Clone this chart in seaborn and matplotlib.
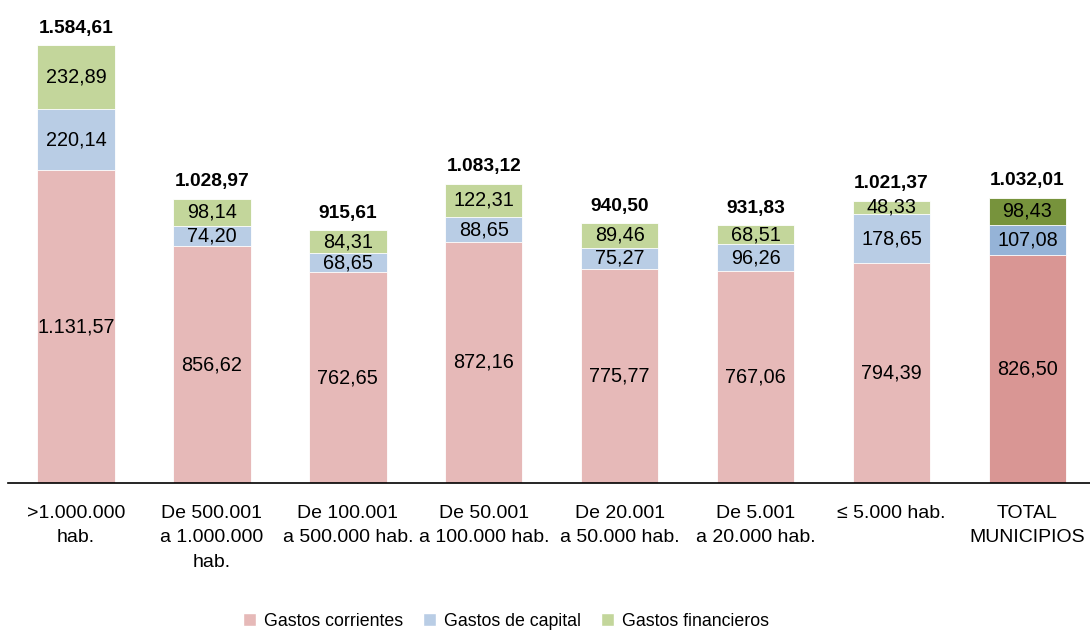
import matplotlib
matplotlib.use("Agg")
import matplotlib.pyplot as plt
import seaborn as sns
import pandas as pd
import numpy as np
from matplotlib.patches import Patch
from matplotlib import font_manager

categories = [">1.000.000\nhab.", "De 500.001\na 1.000.000\nhab.", "De 100.001\na 500.000 hab.",
              "De 50.001\na 100.000 hab.", "De 20.001\na 50.000 hab.", "De 5.001\na 20.000 hab.",
              "≤ 5.000 hab.", "TOTAL\nMUNICIPIOS"]
corrientes = [1131.57, 856.62, 762.65, 872.16, 775.77, 767.06, 794.39, 826.50]
capital = [220.14, 74.20, 68.65, 88.65, 75.27, 96.26, 178.65, 107.08]
financieros = [232.89, 98.14, 84.31, 122.31, 89.46, 68.51, 48.33, 98.43]
totales = [1584.61, 1028.97, 915.61, 1083.12, 940.50, 931.83, 1021.37, 1032.01]
series_names = ["Gastos corrientes", "Gastos de capital", "Gastos financieros"]

col_light = ["#E6B9B8", "#B9CDE5", "#C3D69B"]
col_dark = ["#D99694", "#95B3D7", "#77933C"]

sns.set_theme(style="white")
names = {f.name for f in font_manager.fontManager.ttflist}
fam = "Liberation Sans Narrow" if "Liberation Sans Narrow" in names else "Liberation Sans"
plt.rcParams["font.family"] = [fam, "DejaVu Sans"]
plt.rcParams["text.color"] = "black"

def fmt(v):
    s = f"{v:,.2f}"
    return s.replace(",", "X").replace(".", ",").replace("X", ".")

df = pd.DataFrame({"cat": categories, "c": corrientes, "k": capital, "f": financieros})
df["cum1"] = df["c"]
df["cum2"] = df["c"] + df["k"]
df["cum3"] = df["c"] + df["k"] + df["f"]

fig = plt.figure(figsize=(10.9, 6.32), dpi=100)
ax = fig.add_axes([8/1090, (632-483)/632, 1082/1090, 481/632])

n = len(categories)
layers = [("cum3", 2), ("cum2", 1), ("cum1", 0)]
for colname, idx in layers:
    pal = [col_light[idx]] * (n - 1) + [col_dark[idx]]
    sns.barplot(data=df, x="cat", y=colname, hue="cat", palette=pal, legend=False,
                width=0.57, ax=ax, edgecolor="white", linewidth=0.6, saturation=1)

ax.set_xlim(-0.5, 7.46)
ax.set_ylim(0, 1740)
ax.set_xlabel("")
ax.set_ylabel("")
ax.set_yticks([])
for s in ["top", "right", "left"]:
    ax.spines[s].set_visible(False)
ax.spines["bottom"].set_color("black")
ax.spines["bottom"].set_linewidth(1.2)
ax.tick_params(axis="x", length=0, pad=16, labelsize=14, colors="black")
ax.set_xticks(range(n))
ax.set_xticklabels(categories, linespacing=1.55)

fs = 14.3
for i in range(n):
    bottoms = [0, corrientes[i], corrientes[i] + capital[i]]
    vals = [corrientes[i], capital[i], financieros[i]]
    for b, v in zip(bottoms, vals):
        ax.text(i, b + v / 2, fmt(v), ha="center", va="center", fontsize=fs, color="black")
    ax.annotate(fmt(totales[i]), (i, df["cum3"][i]), xytext=(0, 6), textcoords="offset points",
                ha="center", va="bottom", fontsize=13.8, fontweight="bold", color="black",
                annotation_clip=False)

handles = [Patch(facecolor=c) for c in col_light]
leg = fig.legend(handles, series_names, loc="center", bbox_to_anchor=(506/1090, 1 - 621/632),
                 ncol=3, frameon=False, fontsize=12.8, handlelength=0.75, handleheight=0.75,
                 handletextpad=0.45, columnspacing=1.1)
for t in leg.get_texts():
    t.set_color("black")

fig.savefig("out.png", dpi=100)
